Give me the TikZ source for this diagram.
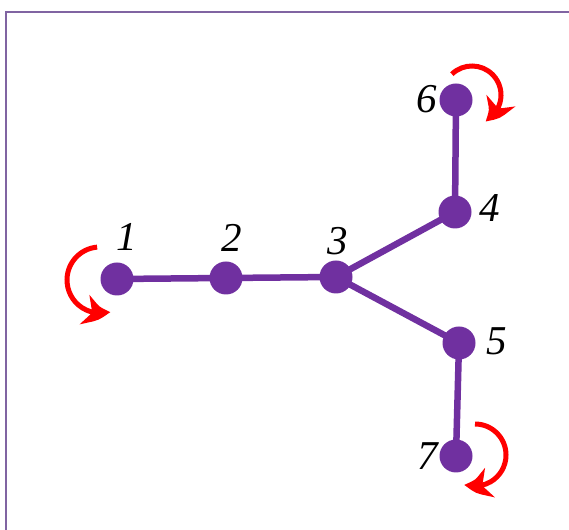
\documentclass[tikz,border=0pt]{standalone}
\usepackage{fontspec}
\setmainfont{Liberation Serif}
\usepackage{xcolor}
\usetikzlibrary{arrows.meta,bending,backgrounds}
\definecolor{atom}{HTML}{7030A0}
\definecolor{frame}{HTML}{8064A2}
\begin{document}
\begin{tikzpicture}[x=1pt, y=1pt,
  atomnode/.style={circle, fill=atom, minimum size=33pt, inner sep=0pt},
  bond/.style={draw=atom, line width=6.5pt},
  lbl/.style={font=\fontsize{41}{41}\selectfont\itshape, inner sep=0pt},
  rot/.style={draw=red, line width=5pt, -{Stealth[length=26pt,width=30pt,inset=8pt,bend]}}
]
\useasboundingbox (0,0) rectangle (569,529);
\draw[frame, line width=2.6pt] (6,-5) -- (6,517) -- (575,517);
% atoms
\node[atomnode] (n1) at (117,250) {};
\node[atomnode] (n2) at (226,251) {};
\node[atomnode] (n3) at (336,252) {};
\node[atomnode] (n4) at (455,317) {};
\node[atomnode] (n5) at (459,186) {};
\node[atomnode] (n6) at (456,429) {};
\node[atomnode] (n7) at (456,73)  {};
% bonds
\begin{scope}[on background layer]
\draw[bond] (n1.center) -- (n2.center) -- (n3.center) -- (n4.center) -- (n6.center);
\draw[bond] (n3.center) -- (n5.center) -- (n7.center);
\end{scope}
% labels
\node[lbl] (t1) at (127,292) {1};
\node[lbl] (t2) at (232,291) {2};
\node[lbl] (t3) at (338,288) {3};
\node[lbl] (t4) at (490,321) {4};
\node[lbl] (t5) at (497,188) {5};
\node[lbl] (t6) at (427,430) {6};
\node[lbl] (t7) at (428,73)  {7};
% rotations
\draw[rot] ([shift={(-17,-1)}]n1.center) ++(95:33) arc[start angle=95, end angle=288, radius=33];
\draw[rot] ([shift={(16,5)}]n6.center) ++(134:29) arc[start angle=134, end angle=-63, radius=29];
\draw[rot] ([shift={(19,1)}]n7.center) ++(90:31) arc[start angle=90, end angle=-110, radius=31];
\end{tikzpicture}
\end{document}
